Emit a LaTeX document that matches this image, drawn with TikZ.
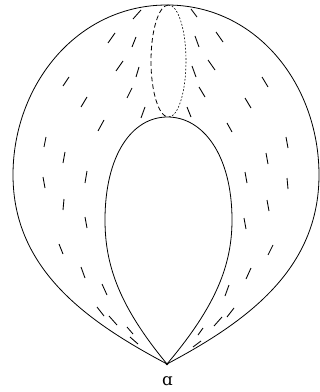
\documentclass[tikz,border=0pt]{standalone}
\usepackage{fontspec}
\newfontfamily\labfont{DejaVu Serif}
\begin{document}
\begin{tikzpicture}[x=0.75pt,y=-0.75pt,line width=0.6pt,
  tick/.style={line width=0.65pt},
  backhalf/.style={line width=0.45pt,dash pattern=on 1.3pt off 1.3pt},
  fronthalf/.style={line width=0.6pt,dash pattern=on 3.6pt off 2.2pt}]
\useasboundingbox (0,0) rectangle (320,392);
\coordinate (a) at (167,364);
\coordinate (top) at (167,5);
\coordinate (itop) at (167.5,117);
\coordinate (etop) at (168.5,5);
\coordinate (ebot) at (168.5,117);
% outer loop
\draw (a) .. controls (88,322) and (13,270) .. (13,175)
          .. controls (13,85) and (77,5) .. (top)
          .. controls (257,5) and (319,85) .. (319,175)
          .. controls (319,270) and (246,322) .. (a);
% inner loop
\draw (a) .. controls (119,306) and (105,265) .. (105,220)
          .. controls (105,155) and (132,117) .. (itop)
          .. controls (203,117) and (232,155) .. (232,220)
          .. controls (232,265) and (216,306) .. (a);
% meridian ellipse
\draw[fronthalf] (etop) .. controls (158.8,5) and (151,30.1) .. (151,61)
          .. controls (151,91.9) and (158.8,117) .. (ebot);
\draw[backhalf] (etop) .. controls (178.2,5) and (186,30.1) .. (186,61)
          .. controls (186,91.9) and (178.2,117) .. (ebot);
% ticks
\foreach \xa/\ya/\xb/\yb in {
 63/86/69/77, 81/107/87/97, 98/131/104/120, 108/43/115/33, 133/19/141/10,
 132/47/136/37, 116/71/123/61, 136/77/139/67, 127/98/132/88, 141/118/145/107,
 44/147/46/137, 63/163/65/152, 43/177/45/188, 85/183/87/171, 63/210/64/199,
 85/217/87/228, 59/244/63/254, 81/267/85/278, 102/284/107/295, 97/307/104/316,
 109/316/117/325, 127/327/133/334, 130/337/138/344,
 191/9/197/17, 195/36/199/47, 216/32/223/42, 208/60/215/70, 192/66/196/77,
 199/87/205/97, 187/107/191/117, 262/77/268/87, 245/98/251/108, 227/123/232/132,
 286/137/288/148, 266/153/268/164, 245/172/247/183, 287/178/288/189, 267/200/269/211,
 244/218/246/229, 268/255/273/245, 246/279/251/268, 225/296/229/285, 227/317/234/308,
 214/326/222/317, 198/335/203/328, 193/347/201/341}
 \draw[tick] (\xa,\ya) -- (\xb,\yb);
\fill (a) circle (1.4);
\node[inner sep=0pt,font=\labfont\fontsize{12.5}{14}\selectfont] (lbl) at (167.5,381.5) {ɑ};
\end{tikzpicture}
\end{document}
